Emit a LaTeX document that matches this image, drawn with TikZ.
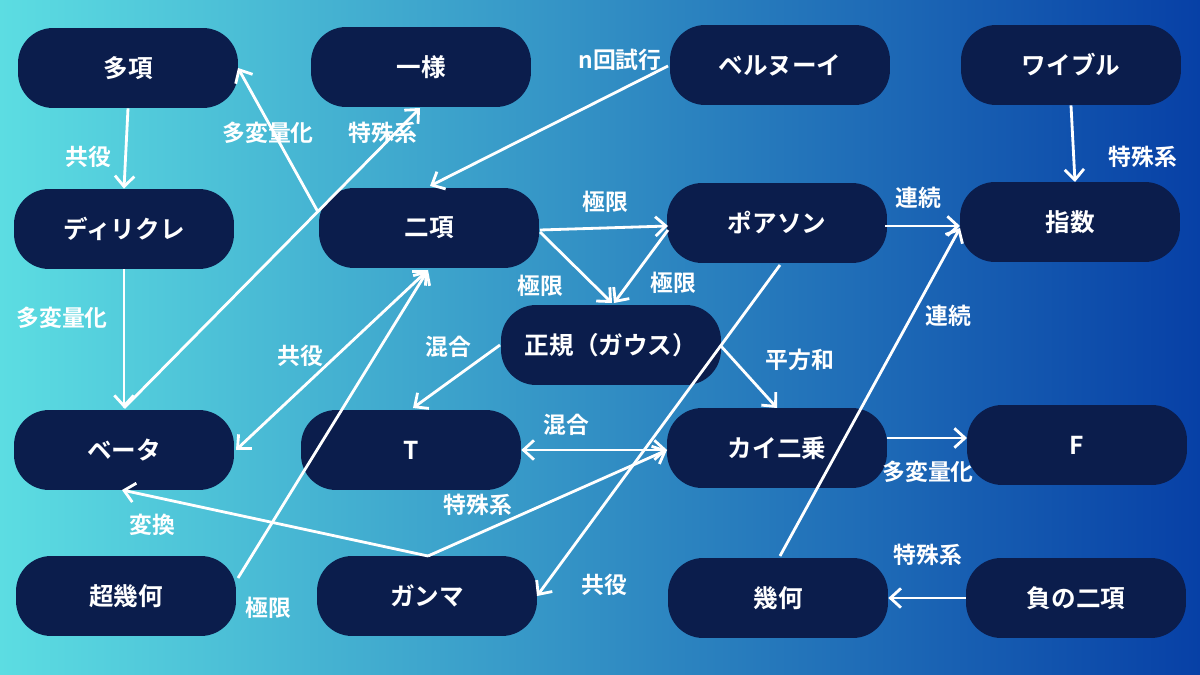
\documentclass[tikz,border=0pt]{standalone}
\usepackage{fontspec}
\newfontfamily\jp{Noto Sans CJK JP}[BoldFont={Noto Sans CJK JP Bold}]
\usetikzlibrary{arrows.meta}
\definecolor{navy}{HTML}{0B1D4C}
\definecolor{bgl}{HTML}{5CDDE2}
\definecolor{bgr}{HTML}{0740A6}
\tikzset{
 box/.style={fill=navy,rounded corners=20pt,minimum width=4.4cm,minimum height=1.6cm,text=white,font=\jp\bfseries\fontsize{14}{16}\selectfont},
 ar/.style={draw=white,line width=1.6pt,-{Straight Barb[length=6pt,width=11pt,line width=1.6pt]}},
 dar/.style={draw=white,line width=1.6pt,{Straight Barb[length=6pt,width=11pt,line width=1.6pt]}-{Straight Barb[length=6pt,width=11pt,line width=1.6pt]}},
 lb/.style={text=white,font=\jp\bfseries\fontsize{13}{15}\selectfont}
}
\begin{document}
\begin{tikzpicture}[x=0.02cm,y=-0.02cm]
\shade[left color=bgl,right color=bgr] (0,0) rectangle (1200,675);
\useasboundingbox (0,0) rectangle (1200,675);
\node[box] (multi) at (128,68) {多項};
\node[box] (unif) at (421,67) {一様};
\node[box] (bern) at (780,65) {ベルヌーイ};
\node[box] (weib) at (1071,65) {ワイブル};
\node[box] (diri) at (124,229) {ディリクレ};
\node[box] (bin) at (429,228) {二項};
\node[box] (pois) at (777,223) {ポアソン};
\node[box] (expo) at (1070,222) {指数};
\node[box] (norm) at (611,345) {正規（ガウス）};
\node[box] (beta) at (124,450) {ベータ};
\node[box] (t) at (411,450) {T};
\node[box] (chi) at (777,448) {カイ二乗};
\node[box] (f) at (1077,445) {F};
\node[box] (hyp) at (126,596) {超幾何};
\node[box] (gam) at (427,596) {ガンマ};
\node[box] (geo) at (778,598) {幾何};
\node[box] (nb) at (1076,598) {負の二項};
\coordinate (betaT) at (124,408);
\coordinate (binB) at (428,270);
\coordinate (gamT) at (428,556);
\coordinate (chiL) at (667,450);
\draw[ar] (multi.south) -- (diri.north);
\draw[ar] (diri.south) -- (betaT);
\draw[ar] (318,212) -- (238,68);
\draw[ar] (betaT) -- (420,108);
\draw[ar] (668,66) -- (430,186);
\draw[ar] (540,230) -- (668,226);
\draw[ar] (540,232) -- (612,303);
\draw[ar] (668,230) -- (614,303);
\draw[ar] (885,226) -- (960,226);
\draw[ar] (weib.south) -- (1075,182);
\draw[ar] (500,345) -- (413,408);
\draw[ar] (720,345) -- (777,408);
\draw[dar] (t.east) -- (chiL);
\draw[ar] (887,438) -- (967,438);
\draw[dar] (236,450) -- (binB);
\draw[ar] (238,578) -- (binB);
\draw[ar] (gamT) -- (122,490);
\draw[ar] (gamT) -- (chiL);
\draw[ar] (780,265) -- (537,596);
\draw[ar] (780,556) -- (960,228);
\draw[ar] (nb.west) -- (geo.east);
\node[lb] at (88,157) {共役};
\node[lb] at (62,318) {多変量化};
\node[lb] at (268,133) {多変量化};
\node[lb] at (383,133) {特殊系};
\node[lb] at (620,60) {n回試行};
\node[lb] at (605,202) {極限};
\node[lb] at (540,286) {極限};
\node[lb] at (673,283) {極限};
\node[lb] at (918,198) {連続};
\node[lb] at (1143,157) {特殊系};
\node[lb] at (448,347) {混合};
\node[lb] at (800,360) {平方和};
\node[lb] at (566,425) {混合};
\node[lb] at (928,472) {多変量化};
\node[lb] at (300,356) {共役};
\node[lb] at (268,608) {極限};
\node[lb] at (152,525) {変換};
\node[lb] at (478,505) {特殊系};
\node[lb] at (604,585) {共役};
\node[lb] at (948,316) {連続};
\node[lb] at (928,555) {特殊系};
\end{tikzpicture}
\end{document}
